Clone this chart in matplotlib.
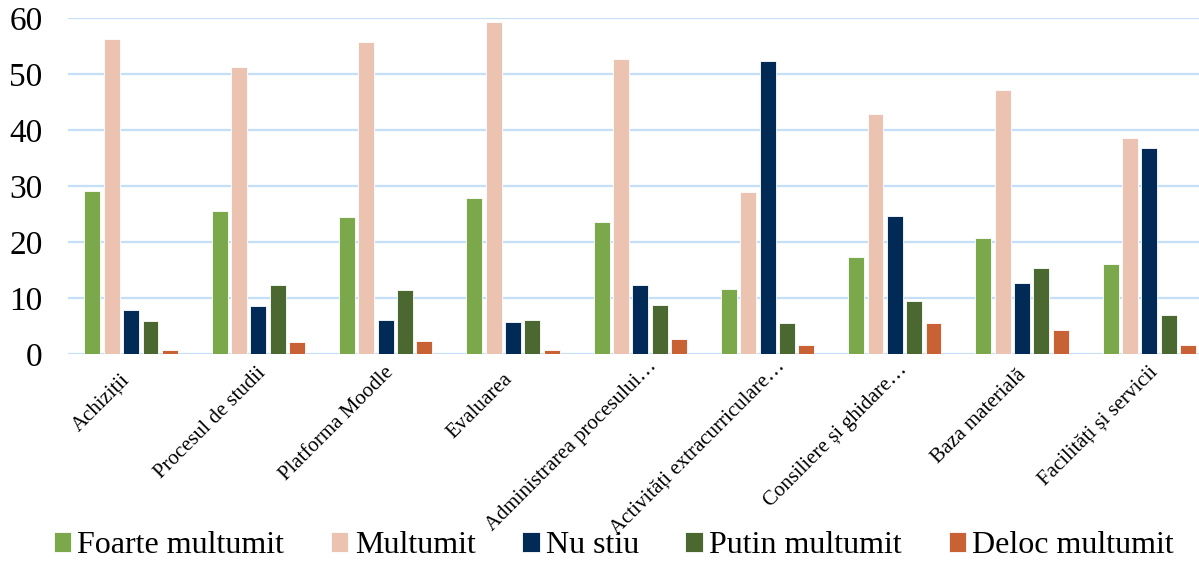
import numpy as np
import matplotlib.pyplot as plt
import matplotlib.transforms as mtransforms

plt.rcParams['font.family'] = ['Liberation Serif', 'DejaVu Serif']

categories = ["Achiziții", "Procesul de studii", "Platforma Moodle", "Evaluarea",
              "Administrarea procesului…", "Activități extracurriculare…",
              "Consiliere și ghidare…", "Baza materială", "Facilități și servicii"]

foarte = [29.1, 25.5, 24.5, 27.9, 23.6, 11.6, 17.3, 20.7, 16.1]
multumit = [56.2, 51.3, 55.7, 59.3, 52.7, 28.9, 42.9, 47.1, 38.5]
nu_stiu = [7.9, 8.6, 6.0, 5.8, 12.3, 52.3, 24.6, 12.6, 36.7]
putin = [5.9, 12.4, 11.4, 6.1, 8.7, 5.5, 9.5, 15.3, 7.0]
deloc = [0.8, 2.2, 2.3, 0.8, 2.6, 1.6, 5.5, 4.2, 1.6]

series = [("Foarte multumit", foarte, "#7aa84a"),
          ("Multumit", multumit, "#ecc3b1"),
          ("Nu stiu", nu_stiu, "#012b56"),
          ("Putin multumit", putin, "#4a6830"),
          ("Deloc multumit", deloc, "#c86133")]

fig = plt.figure(figsize=(11.99, 5.61), dpi=100)
# plot area runs past the right edge, as in the original (cropped) chart
ax = fig.add_axes([0.0563, 0.369, 0.9554, 0.599])

x = np.arange(len(categories))
pitch = 0.152
width = 0.125
for i, (name, vals, col) in enumerate(series):
    ax.bar(x + (i - 2) * pitch, vals, width, color=col, label=name,
           edgecolor="white", linewidth=0.6, zorder=3)

ax.set_ylim(0, 60)
ax.set_xlim(-0.5, len(categories) - 0.5)
ax.set_yticks(range(0, 61, 10))
ax.yaxis.grid(True, color="#c5dff8", linewidth=1.6, zorder=0)
ax.set_axisbelow(True)
for s in ax.spines.values():
    s.set_visible(False)
ax.tick_params(axis="y", length=0, labelsize=24, pad=18)
ax.tick_params(axis="x", length=0, pad=6)
ax.set_xticks(x)
ax.set_xticklabels(categories, rotation=45, ha="right", rotation_mode="anchor",
                   fontsize=15)

fig.legend(loc="center", bbox_to_anchor=(0.512, 0.027), ncol=5, frameon=False,
           fontsize=23, handlelength=0.55, handleheight=0.55, handletextpad=0.2,
           columnspacing=1.45, borderpad=0)

# longer labels sit further up-right, like Excel does it
fig.canvas.draw()
labels = ax.get_xticklabels()
w0 = labels[0].get_window_extent().width
for lab in labels:
    extra = 0.16 * (lab.get_window_extent().width - w0)
    dx = (-11 + extra) / fig.dpi
    dy = (-8 + extra * 0.75) / fig.dpi
    lab.set_transform(lab.get_transform() +
                      mtransforms.ScaledTranslation(dx, dy, fig.dpi_scale_trans))

fig.savefig("out.png", dpi=100)
